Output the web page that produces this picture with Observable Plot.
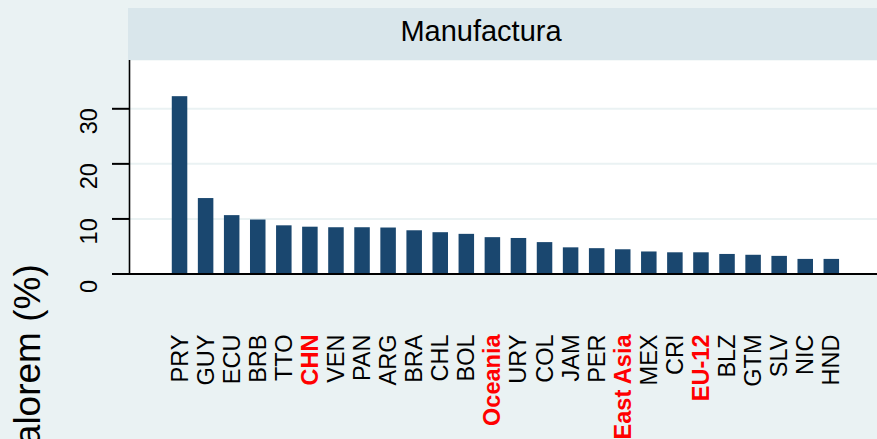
<!DOCTYPE html>
<html>
<head>
<meta charset="utf-8">
<script src="https://cdn.jsdelivr.net/npm/d3@7"></script>
<script src="https://cdn.jsdelivr.net/npm/@observablehq/plot@0.6"></script>
<style>
  html, body { margin: 0; padding: 0; width: 877px; height: 439px; overflow: hidden; background: #eaf2f3; }
  #strip { position: absolute; left: 128px; top: 8px; width: 706px; padding-right: 43px; height: 52px; background: #d9e6eb;
           font-family: "Liberation Sans", Arial, sans-serif; font-size: 29px; line-height: 46px; text-align: center; color: #000; }
  #chart { position: absolute; left: 0; top: 60px; }
</style>
</head>
<body>
<div id="strip"></div>
<div id="chart"></div>
<script>
const panelTitle = "Manufactura";
const yTitle = "Arancel ad valorem (%)";
const codes = ["PRY","GUY","ECU","BRB","TTO","CHN","VEN","PAN","ARG","BRA","CHL","BOL","Oceania","URY","COL","JAM","PER","East Asia","MEX","CRI","EU-12","BLZ","GTM","SLV","NIC","HND"];
const values = [32.2,13.7,10.6,9.8,8.75,8.5,8.4,8.4,8.35,7.85,7.5,7.2,6.6,6.45,5.7,4.75,4.6,4.4,4.0,3.85,3.85,3.55,3.4,3.2,2.65,2.65];
const highlighted = ["CHN","Oceania","East Asia","EU-12"];
const yTicks = [0,10,20,30];
const gridTicks = [10,20,30];

document.getElementById("strip").textContent = panelTitle;

const data = codes.map((c, i) => ({code: c, value: values[i]}));
const font = "Liberation Sans, Arial, sans-serif";

const chart = Plot.plot({
  width: 877,
  height: 379,
  marginTop: 0,
  marginLeft: 129,
  marginRight: 0,
  marginBottom: 165.5,
  style: {background: "transparent", fontFamily: font},
  x: {domain: codes, axis: null, paddingInner: 0.405, paddingOuter: 1.548, align: 0.53, round: false},
  y: {domain: [0, 38.77], axis: null},
  marks: [
    Plot.frame({fill: "white", stroke: "none"}),
    Plot.ruleY(gridTicks, {stroke: "#eaf2f3", strokeWidth: 2}),
    Plot.barY(data, {x: "code", y: "value", fill: "#1a476f"}),
    Plot.ruleY([0], {stroke: "black", strokeWidth: 2}),
    Plot.frame({anchor: "left", stroke: "black", strokeWidth: 1.6}),
    Plot.axisY({ticks: yTicks, tickSize: 17, tickFormat: () => "", stroke: "black", strokeWidth: 2, label: null}),
    Plot.text(yTicks, {y: d => d, text: d => String(d), frameAnchor: "left", rotate: -90, textAnchor: "middle", lineAnchor: "middle", dx: -40.3, dy: 12.4, fontSize: 23.5, fill: "black"}),
    Plot.text(codes.filter(c => !highlighted.includes(c)), {x: d => d, text: d => d, frameAnchor: "bottom", rotate: -90, textAnchor: "end", lineAnchor: "middle", dy: 60.5, fontSize: 23.5, fill: "black"}),
    Plot.text(codes.filter(c => highlighted.includes(c)), {x: d => d, text: d => d, frameAnchor: "bottom", rotate: -90, textAnchor: "end", lineAnchor: "middle", dy: 60.5, fontSize: 23.5, fontWeight: "bold", fill: "#ff0000"}),
    Plot.text([yTitle], {text: d => d, frameAnchor: "left", rotate: -90, textAnchor: "end", lineAnchor: "middle", dx: -101, dy: 97, fontSize: 37, fill: "black"})
  ]
});
document.getElementById("chart").appendChild(chart);
</script>
</body>
</html>
